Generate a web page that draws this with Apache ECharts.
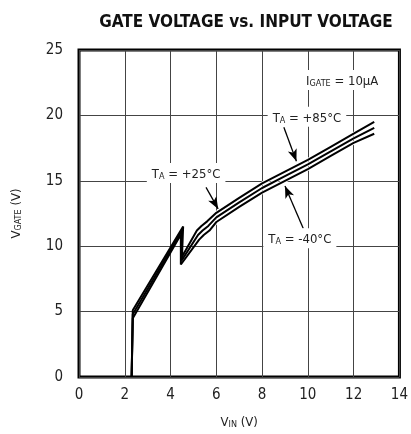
<!DOCTYPE html>
<html>
<head>
<meta charset="utf-8">
<script src="https://cdn.jsdelivr.net/npm/echarts@6/dist/echarts.min.js"></script>
<style>
  html, body { margin: 0; padding: 0; background: #fff; }
  #chart { width: 411px; height: 434px; }
</style>
</head>
<body>
<div id="chart"></div>
<script>
// Gate voltage vs input voltage at three ambient temperatures, IGATE = 10uA
const xTicks = [0, 2, 4, 6, 8, 10, 12, 14];
const yTicks = [0, 5, 10, 15, 20, 25];

const vinHot  = [2.30, 2.35, 4.55, 4.50, 5.15, 5.35, 5.60, 6.00, 7.00, 8.00, 9.00, 10.0, 11.0, 12.0, 12.9];
const gateHot = [0.0,  5.1,  11.5, 9.2,  11.2, 11.55, 11.9, 12.55, 13.7, 14.8, 15.7, 16.6, 17.6, 18.6, 19.5];

const vinRoom  = [2.30, 2.35, 4.50, 4.48, 5.20, 5.40, 5.65, 6.00, 7.00, 8.00, 9.00, 10.0, 11.0, 12.0, 12.9];
const gateRoom = [0.0,  4.8,  11.2, 8.9,  10.85, 11.2, 11.55, 12.2, 13.35, 14.45, 15.35, 16.25, 17.25, 18.25, 19.05];

const vinCold  = [2.30, 2.35, 4.45, 4.45, 5.25, 5.45, 5.70, 6.00, 7.00, 8.00, 9.00, 10.0, 11.0, 12.0, 12.9];
const gateCold = [0.0,  4.5,  10.9, 8.6,  10.5, 10.85, 11.2, 11.85, 13.0, 14.1, 15.0, 15.9, 16.9, 17.9, 18.6];

const pairs = (xs, ys) => xs.map((x, i) => [x, ys[i]]);

const FONT = '"Liberation Sans Narrow", "DejaVu Sans Condensed", "Roboto Condensed", Roboto, sans-serif';
const subRich = {
  t: { fontFamily: FONT, fontSize: 13, color: '#222', lineHeight: 16, verticalAlign: 'bottom' },
  s: { fontFamily: FONT, fontSize: 9, color: '#222', lineHeight: 10, padding: [6, 0, 0, 0], verticalAlign: 'bottom' }
};

function tag(x, y, text) {
  return {
    coord: [x, y],
    symbol: 'rect', symbolSize: 0,
    label: {
      show: true, position: 'inside', formatter: text,
      backgroundColor: '#fff', padding: [2, 5, 2, 5], rich: subRich
    }
  };
}
function arrow(x1, y1, x2, y2) {
  return [{ coord: [x1, y1] }, { coord: [x2, y2] }];
}

// Above the knee (from index 4 on) each trace gets a thin white halo so
// the three curves stay visibly apart; below it they run together.
const KNEE = 4;
function curve(name, data, z) {
  return [
    { name: name + ' halo', type: 'line', data: data.slice(KNEE), showSymbol: false, symbol: 'none', silent: true,
      lineStyle: { color: '#fff', width: 3.6 }, z: z },
    { name, type: 'line', data, showSymbol: false, symbol: 'none',
      lineStyle: { color: '#000', width: 2 }, z: z + 0.1 }
  ];
}

const coldSeries = curve('TA = -40°C', pairs(vinCold, gateCold), 3);
const roomSeries = curve('TA = +25°C', pairs(vinRoom, gateRoom), 3.2);
const hotSeries  = curve('TA = +85°C', pairs(vinHot, gateHot), 3.4);

hotSeries[1].markLine = {
  silent: true, symbol: ['none', 'arrow'], symbolSize: [7, 12],
  lineStyle: { color: '#000', width: 1.3, type: 'solid' }, label: { show: false },
  data: [
    arrow(8.95, 19.1, 9.5, 16.5),
    arrow(5.55, 14.5, 6.08, 12.85),
    arrow(9.8, 11.35, 9.0, 14.6)
  ]
};
hotSeries[1].markPoint = {
  silent: true,
  data: [
    tag(9.96, 19.9, '{t|T}{s|A}{t| = +85°C}'),
    tag(4.68, 15.6, '{t|T}{s|A}{t| = +25°C}'),
    tag(9.65, 10.6, '{t|T}{s|A}{t| = -40°C}'),
    tag(11.5, 22.7, '{t|I}{s|GATE}{t| = 10μA}')
  ]
};

const chart = echarts.init(document.getElementById('chart'));
chart.setOption({
  animation: false,
  title: {
    text: 'GATE VOLTAGE vs. INPUT VOLTAGE',
    left: 241, top: 9, textAlign: 'center',
    textStyle: { fontFamily: FONT, fontWeight: 'bold', fontSize: 17, color: '#111' }
  },
  grid: { left: 78, right: 7, top: 50, bottom: 57, show: true, borderColor: '#000', borderWidth: 3, backgroundColor: 'transparent' },
  xAxis: {
    type: 'value', min: 0, max: 14, interval: 2,
    name: '{t|V}{s|IN}{t| (V)}', nameLocation: 'middle', nameGap: 36,
    nameTextStyle: { rich: subRich },
    axisLine: { show: false }, axisTick: { show: false },
    axisLabel: { fontFamily: FONT, fontSize: 15, color: '#222', margin: 11 },
    splitLine: { show: true, lineStyle: { color: '#444', width: 1 } }
  },
  yAxis: {
    type: 'value', min: 0, max: 25, interval: 5,
    name: '{t|V}{s|GATE}{t| (V)}', nameLocation: 'middle', nameGap: 56, nameRotate: 90,
    nameTextStyle: { rich: subRich },
    axisLine: { show: false }, axisTick: { show: false },
    axisLabel: { fontFamily: FONT, fontSize: 15, color: '#222', margin: 16 },
    splitLine: { show: true, lineStyle: { color: '#444', width: 1 } }
  },
  series: [...coldSeries, ...roomSeries, ...hotSeries]
});
</script>
</body>
</html>
